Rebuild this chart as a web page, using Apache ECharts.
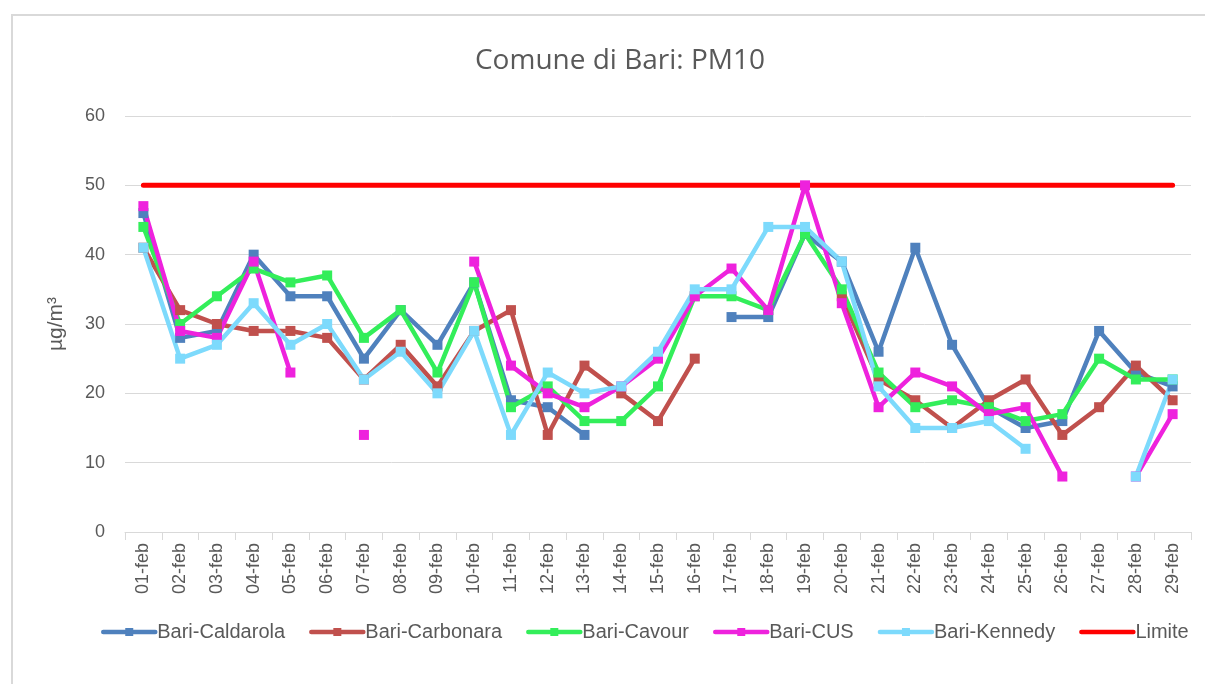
<!DOCTYPE html>
<html>
<head>
<meta charset="utf-8">
<script src="https://cdn.jsdelivr.net/npm/echarts@6/dist/echarts.min.js"></script>
<style>
    html, body { margin: 0; padding: 0; background: #fff; overflow: hidden; }
    #chart { position: absolute; left: 0; top: 0; width: 1205px; height: 684px; }
    #frame { position: absolute; left: 11px; top: 14px; width: 1300px; height: 800px;
             border: 2px solid #d9d9d9; pointer-events: none; }
</style>
</head>
<body>
<div id="chart"></div>
<div id="frame"></div>
<script>
// giorni di febbraio
var days = ['01-feb', '02-feb', '03-feb', '04-feb', '05-feb', '06-feb', '07-feb', '08-feb', '09-feb', '10-feb',
    '11-feb', '12-feb', '13-feb', '14-feb', '15-feb', '16-feb', '17-feb', '18-feb', '19-feb', '20-feb',
    '21-feb', '22-feb', '23-feb', '24-feb', '25-feb', '26-feb', '27-feb', '28-feb', '29-feb'];

var caldarola = [46, 28, 29, 40, 34, 34, 25, 32, 27, 36, 19, 18, 14, null, null, null, 31, 31, 43, 39,
    26, 41, 27, 18, 15, 16, 29, 23, 21];
var carbonara = [41, 32, 30, 29, 29, 28, 22, 27, 21, 29, 32, 14, 24, 20, 16, 25, null, null, null, 34,
    22, 19, 15, 19, 22, 14, 18, 24, 19];
var cavour = [44, 30, 34, 38, 36, 37, 28, 32, 23, 36, 18, 21, 16, 16, 21, 34, 34, 32, 43, 35,
    23, 18, 19, 18, 16, 17, 25, 22, 22];
var cus = [47, 29, 28, 39, 23, null, 14, null, null, 39, 24, 20, 18, 21, 25, 34, 38, 32, 50, 33,
    18, 23, 21, 17, 18, 8, null, 8, 17];
var kennedy = [41, 25, 27, 33, 27, 30, 22, 26, 20, 29, 14, 23, 20, 21, 26, 35, 35, 44, 44, 39,
    21, 15, 15, 16, 12, null, null, 8, 22];
var limite = [50, 50, 50, 50, 50, 50, 50, 50, 50, 50, 50, 50, 50, 50, 50, 50, 50, 50, 50, 50,
    50, 50, 50, 50, 50, 50, 50, 50, 50];

var yTicks = { min: 0, max: 60, interval: 10 };

var myChart = echarts.init(document.getElementById('chart'));

function stazione(name, data, color) {
    return {
        name: name,
        type: 'line',
        data: data,
        symbol: 'rect',
        symbolSize: 10,
        showAllSymbol: true,
        connectNulls: false,
        lineStyle: { width: 4.5, color: color, cap: 'round', join: 'round' },
        itemStyle: { color: color },
        emphasis: { disabled: true }
    };
}

myChart.setOption({
    backgroundColor: '#ffffff',
    animation: false,
    textStyle: { fontFamily: 'Liberation Sans' },
    title: {
        text: 'Comune di Bari: PM10',
        left: 615,
        top: 42,
        textAlign: 'center',
        textStyle: { fontFamily: 'Open Sans', fontSize: 28, fontWeight: 'normal', color: '#595959' }
    },
    grid: { left: 125, right: 14, top: 116, bottom: 152 },
    legend: {
        left: 96,
        top: 617,
        itemWidth: 52,
        itemHeight: 10,
        itemGap: 24,
        lineStyle: { width: 4.5 },
        textStyle: { fontFamily: 'Liberation Sans', fontSize: 20, color: '#595959', padding: [0, 0, 0, -3] },
        data: ['Bari-Caldarola', 'Bari-Carbonara', 'Bari-Cavour', 'Bari-CUS', 'Bari-Kennedy',
            { name: 'Limite', itemStyle: { opacity: 0 } }]
    },
    xAxis: {
        type: 'category',
        data: days,
        boundaryGap: true,
        axisLine: { lineStyle: { color: '#d9d9d9', width: 1 } },
        axisTick: { show: true, length: 8, lineStyle: { color: '#d9d9d9' } },
        axisLabel: { rotate: 90, interval: 0, margin: 11, fontSize: 18, color: '#595959' }
    },
    yAxis: {
        type: 'value',
        min: yTicks.min,
        max: yTicks.max,
        interval: yTicks.interval,
        name: 'µg/m³',
        nameLocation: 'middle',
        nameRotate: 90,
        nameGap: 58,
        nameTextStyle: { fontSize: 21, color: '#595959' },
        axisLine: { show: false },
        axisTick: { show: false },
        axisLabel: { fontSize: 18, color: '#595959', margin: 20 },
        splitLine: { show: true, lineStyle: { color: '#d9d9d9', width: 1 } }
    },
    series: [
        stazione('Bari-Caldarola', caldarola, '#4f81bd'),
        stazione('Bari-Carbonara', carbonara, '#c0504d'),
        stazione('Bari-Cavour', cavour, '#33ee5a'),
        stazione('Bari-CUS', cus, '#ee22dd'),
        stazione('Bari-Kennedy', kennedy, '#7ddafc'),
        {
            name: 'Limite',
            type: 'line',
            data: limite,
            symbol: 'none',
            lineStyle: { width: 5, color: '#ff0000', cap: 'round' },
            itemStyle: { color: '#ff0000' },
            emphasis: { disabled: true }
        }
    ]
});
</script>
</body>
</html>
